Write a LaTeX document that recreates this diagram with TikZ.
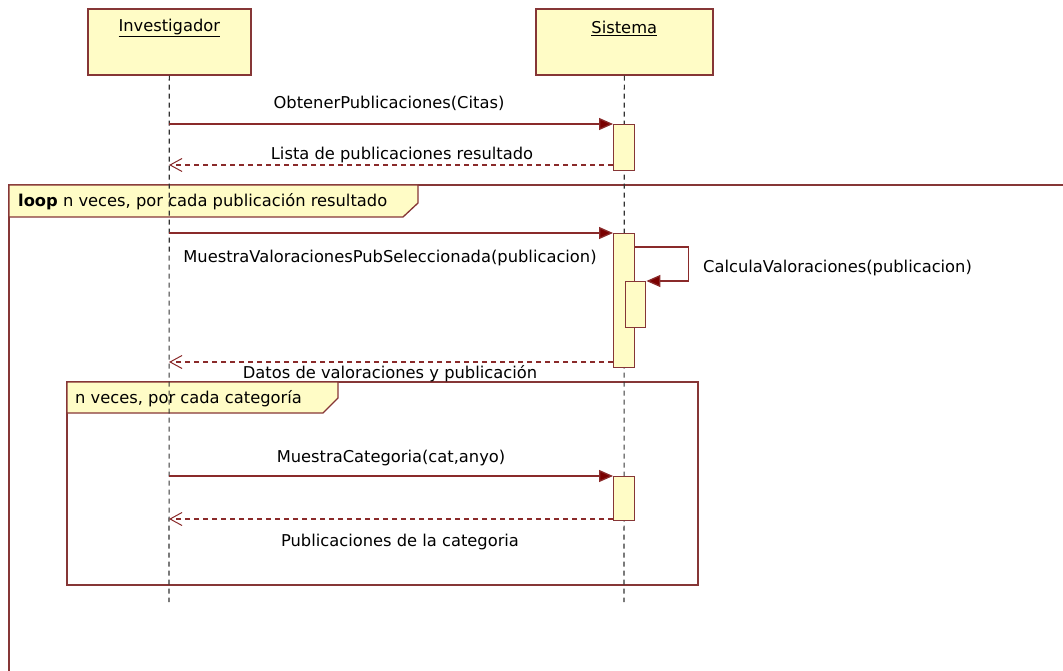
\documentclass[tikz,border=0pt]{standalone}
\usepackage{fontspec}
\setmainfont{DejaVu Sans}
\usetikzlibrary{arrows.meta}
\definecolor{lineRed}{HTML}{8A2A2A}
\definecolor{frameRed}{HTML}{863636}
\definecolor{arrRed}{HTML}{7A0000}
\definecolor{boxFill}{HTML}{FFFCC6}
\definecolor{lifeGray}{HTML}{333333}
\begin{document}
\begin{tikzpicture}[x=1pt,y=-1pt,
  actor/.style={draw=frameRed, fill=boxFill, line width=1.6pt, minimum width=163pt, minimum height=66pt, anchor=north west, inner sep=0pt},
  actbar/.style={draw=frameRed, fill=boxFill, line width=1.4pt, minimum width=21pt, anchor=north west, inner sep=0pt},
  lifeline/.style={draw=lifeGray, line width=1.1pt, dash pattern=on 5pt off 4pt},
  msg/.style={draw=lineRed, line width=1.3pt, -{Triangle[length=14pt,width=12pt,fill=arrRed]}},
  ret/.style={draw=lineRed, line width=1.2pt, dash pattern=on 5pt off 4pt, -{Straight Barb[length=12pt,width=13pt,line width=1pt]}},
  frm/.style={draw=frameRed, line width=1.6pt},
  tab/.style={draw=frameRed, fill=boxFill, line width=1.3pt},
  lbl/.style={font=\fontsize{16.3}{18}\selectfont, inner sep=0pt, text=black},
]
\useasboundingbox (0,0) rectangle (1063,671);
\fill[white] (0,0) rectangle (1063,671);

% actors
\node[actor] (inv) at (87,8) {};
\node[actor, minimum width=177pt] (sis) at (535,8) {};
\node[lbl] (invname) at ([yshift=-20pt]inv.north) {\underline{Investigador}};
\node[lbl] (sisname) at ([yshift=-20pt]sis.north) {\underline{Sistema}};

% frames
\draw[frm] (1070,185) -- (9,185) -- (9,680);
\draw[tab] (9,185) -- (418,185) -- (418,203) -- (403,217) -- (9,217) -- cycle;
\node[lbl, anchor=west] (looptxt) at (18,202) {\textbf{loop} n veces, por cada publicación resultado};

\draw[frm] (67,382) rectangle (698,585);
\draw[tab] (67,382) -- (338,382) -- (338,398) -- (323,413) -- (67,413) -- cycle;
\node[lbl, anchor=west] (cattxt) at (75,399) {n veces, por cada categoría};

% lifelines
\coordinate (invEnd) at (169,602);
\coordinate (sisEnd) at (624,602);
\draw[lifeline] (inv.south) -- (invEnd);
\draw[lifeline] (sis.south) -- (sisEnd);

% activations
\node[actbar, minimum height=46pt] (a1) at (613,124) {};
\node[actbar, minimum height=134pt] (a2) at (613,233) {};
\node[actbar, minimum height=46pt, minimum width=20pt] (a2i) at (625,281) {};
\node[actbar, minimum height=44pt] (a3) at (613,476) {};

% messages
\coordinate (m1s) at (169,124);
\coordinate (r1e) at (169,165);
\coordinate (m2s) at (169,233);
\coordinate (r2e) at (169,362);
\coordinate (m3s) at (169,476);
\coordinate (r3e) at (169,519);

\draw[msg] (m1s) -- (a1.north west);
\draw[ret] (a1.west |- r1e) -- (r1e);
\draw[msg] (m2s) -- (a2.north west);
\draw[msg] ([yshift=-14pt]a2.north east) -- ++(53,0) |- (a2i.north east);
\draw[ret] (a2.west |- r2e) -- (r2e);
\draw[msg] (m3s) -- (a3.north west);
\draw[ret] (a3.west |- r3e) -- (r3e);

% labels
\node[lbl] (l1) at (389,103) {ObtenerPublicaciones(Citas)};
\node[lbl] (l2) at (402,155) {Lista de publicaciones resultado};
\node[lbl] (l3) at (390,258) {MuestraValoracionesPubSeleccionada(publicacion)};
\node[lbl, anchor=west] (l4) at (703,268) {CalculaValoraciones(publicacion)};
\node[lbl] (l5) at (390,374) {Datos de valoraciones y publicación};
\node[lbl] (l6) at (391,458) {MuestraCategoria(cat,anyo)};
\node[lbl] (l7) at (400,542) {Publicaciones de la categoria};
\end{tikzpicture}
\end{document}
